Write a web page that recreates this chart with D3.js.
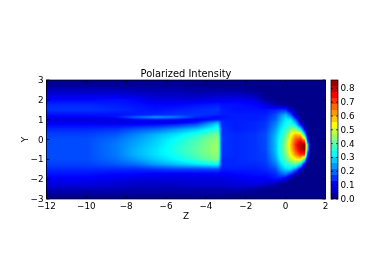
<!DOCTYPE html>
<html><head><meta charset="utf-8">
<script src="https://cdn.jsdelivr.net/npm/d3@7"></script>
<style>html,body{margin:0;padding:0;background:#fff;overflow:hidden}#w{position:relative;width:374px;height:280px}
canvas,svg{position:absolute;left:0;top:0}text{font-family:"DejaVu Sans";fill:#000}</style></head>
<body><div id="w"><canvas id="c" width="374" height="280"></canvas><svg id="s" width="374" height="280"></svg></div>
<script>
const zCols=[-12,-10,-8.5,-7.5,-6.5,-5.5,-4.5,-3.4,-3.2,-2.5,-1.5,-1,-0.5,-0.25,0,0.25,0.5,0.75,0.95,1.1,1.25,2];
const yRows=[3,2.75,2.5,2.25,2,1.75,1.5,1.25,1.125,1,0.875,0.75,0.5,0.25,0,-0.25,-0.5,-0.75,-1,-1.25,-1.5,-1.75,-2,-2.25,-2.5,-2.75,-3];
// intensity in hundredths, one row per Y value
const intensity=[
[1,1,1,1,1,1,1,1,1,1,1,1,1,1,1,1,1,1,1,1,1,1],
[2,2,2,2,2,2,1,1,1,1,1,1,1,1,1,1,1,1,1,1,1,1],
[5,5,5,4,4,4,3,3,3,3,1,1,1,1,1,1,1,1,1,1,1,1],
[8,8,8,7,6,6,5,6,6,6,4,1,1,1,1,1,1,1,1,1,1,1],
[11,11,12,11,8,8,8,9,9,10,8,3,1,1,1,1,1,1,1,1,1,1],
[14,14,13,12,11,11,12,13,12,12,11,8,4,3,2,1,1,1,1,1,1,1],
[15,15,14,13,12,13,14,15,13,12,12,12,13,14,14,6,2,1,1,1,1,1],
[12,12,12,13,14,15,15,14,13,13,13,13,17,22,26,18,5,1,1,1,1,1],
[10,10,12,19,24,21,14,11,12,13,13,14,18,24,29,25,10,2,1,1,1,1],
[8,8,8,11,12,11,9,13,13,13,13,14,19,25,31,31,18,3,1,1,1,1],
[9,9,8,8,8,8,12,24,14,13,14,15,21,27,32,34,25,6,1,1,1,1],
[11,11,11,11,12,14,18,30,14,13,14,15,22,28,33,36,30,12,2,1,1,1],
[14,14,15,18,20,24,28,36,15,13,14,16,24,31,36,43,46,32,10,1,1,1],
[16,16,18,22,26,30,35,42,15,14,15,17,26,33,40,52,60,58,30,3,1,1],
[17,17,20,24,28,33,38,45,15,14,15,17,27,35,42,56,68,72,60,12,1,1],
[17,17,21,25,29,34,39,46,15,14,15,17,27,36,44,58,72,82,84,30,2,1],
[17,17,21,26,30,35,40,46,15,14,15,17,27,36,44,57,70,80,84,30,2,1],
[17,17,21,26,30,34,39,45,15,14,15,16,26,35,42,54,64,72,72,16,1,1],
[17,17,20,24,28,32,37,43,14,14,15,16,24,33,39,47,54,55,36,4,1,1],
[16,16,18,20,24,27,30,33,14,14,14,15,21,29,35,38,40,30,8,1,1,1],
[14,14,14,14,15,16,16,17,13,13,13,14,17,24,29,29,22,8,1,1,1,1],
[12,12,11,11,10,10,10,10,10,11,12,12,14,18,20,14,4,1,1,1,1,1],
[10,10,9,8,8,8,8,8,8,9,10,10,12,11,7,2,1,1,1,1,1,1],
[8,8,7,6,6,6,7,7,7,8,8,7,4,2,1,1,1,1,1,1,1,1],
[5,5,5,4,4,4,4,4,4,5,3,1,1,1,1,1,1,1,1,1,1,1],
[2,2,2,2,2,2,2,2,2,1,1,1,1,1,1,1,1,1,1,1,1,1],
[1,1,1,1,1,1,1,1,1,1,1,1,1,1,1,1,1,1,1,1,1,1]];
const zTicks=[-12,-10,-8,-6,-4,-2,0,2];
const yTicks=[-3,-2,-1,0,1,2,3];
const barTicks=[0,0.1,0.2,0.3,0.4,0.5,0.6,0.7,0.8];
const titleText="Polarized Intensity", xLabel="Z", yLabel="Y";
const vMax=0.86, levels=20;
const jetStops=["#00007f","#0000ff","#007fff","#00ffff","#7fff7f","#ffff00","#ff7f00","#ff0000","#7f0000"];

const L=46.5,R=325.5,T=80,B=199,BL=331,BR=338;
const x=d3.scaleLinear().domain([-12,2]).range([L,R]);
const y=d3.scaleLinear().domain([-3,3]).range([B,T]);
const cb=d3.scaleLinear().domain([0,vMax]).range([B,T]);
const jet=d3.scaleLinear().domain(jetStops.map((_,i)=>i/(jetStops.length-1)*vMax)).range(jetStops).clamp(true);
const zIdx=d3.scaleLinear().domain(zCols).range(zCols.map((_,i)=>i)).clamp(true);
const yIdx=d3.scaleLinear().domain(yRows).range(yRows.map((_,i)=>i)).clamp(true);
function sample(z,v){
  const a=zIdx(z),b=yIdx(v),i=Math.min(Math.floor(a),zCols.length-2),j=Math.min(Math.floor(b),yRows.length-2),s=a-i,t=b-j;
  const m=intensity;
  return ((1-t)*((1-s)*m[j][i]+s*m[j][i+1])+t*((1-s)*m[j+1][i]+s*m[j+1][i+1]))/100;
}
const ctx=document.getElementById("c").getContext("2d");
for(let px=Math.floor(L);px<R;px++)for(let py=T;py<B;py++){
  ctx.fillStyle=jet(sample(x.invert(px+.5),y.invert(py+.5)));
  ctx.fillRect(px,py,1,1);
}
for(let k=0;k<levels;k++){
  const a=k/levels*vMax,b=(k+1)/levels*vMax;
  ctx.fillStyle=jet((a+b)/2);
  const y0=Math.round(cb(b)),y1=Math.round(cb(a));
  ctx.fillRect(BL,y0,BR-BL,y1-y0);
}
const svg=d3.select("#s");
const fs=8.8;
function crisp(sel){return sel.attr("stroke","#000").attr("stroke-width",.7).attr("fill","none")}
crisp(svg.append("rect").attr("x",L).attr("y",T).attr("width",R-L).attr("height",B-T));
crisp(svg.append("rect").attr("x",BL).attr("y",T).attr("width",BR-BL).attr("height",B-T));
const tl=3;
zTicks.forEach(t=>{const p=x(t);
  crisp(svg.append("line").attr("x1",p).attr("x2",p).attr("y1",B).attr("y2",B-tl));
  crisp(svg.append("line").attr("x1",p).attr("x2",p).attr("y1",T).attr("y2",T+tl));
  svg.append("text").attr("x",p).attr("y",B+10).attr("text-anchor","middle").attr("font-size",fs).text(String(t).replace("-","\u2212"));
});
yTicks.forEach(t=>{const p=y(t);
  crisp(svg.append("line").attr("x1",L).attr("x2",L+tl).attr("y1",p).attr("y2",p));
  crisp(svg.append("line").attr("x1",R).attr("x2",R-tl).attr("y1",p).attr("y2",p));
  svg.append("text").attr("x",L-3).attr("y",p+3).attr("text-anchor","end").attr("font-size",fs).text(String(t).replace("-","\u2212"));
});
barTicks.forEach(t=>{const p=cb(t);
  crisp(svg.append("line").attr("x1",BR).attr("x2",BR-2).attr("y1",p).attr("y2",p));
  crisp(svg.append("line").attr("x1",BL).attr("x2",BL+2).attr("y1",p).attr("y2",p));
  svg.append("text").attr("x",BR+2.5).attr("y",p+3).attr("font-size",fs).text(t.toFixed(1));
});
svg.append("text").attr("x",(L+R)/2).attr("y",76.5).attr("text-anchor","middle").attr("font-size",9.9).text(titleText);
svg.append("text").attr("x",(L+R)/2).attr("y",219).attr("text-anchor","middle").attr("font-size",fs).text(xLabel);
svg.append("text").attr("transform",`translate(28,${(T+B)/2}) rotate(-90)`).attr("text-anchor","middle").attr("font-size",fs).text(yLabel);
</script></body></html>
